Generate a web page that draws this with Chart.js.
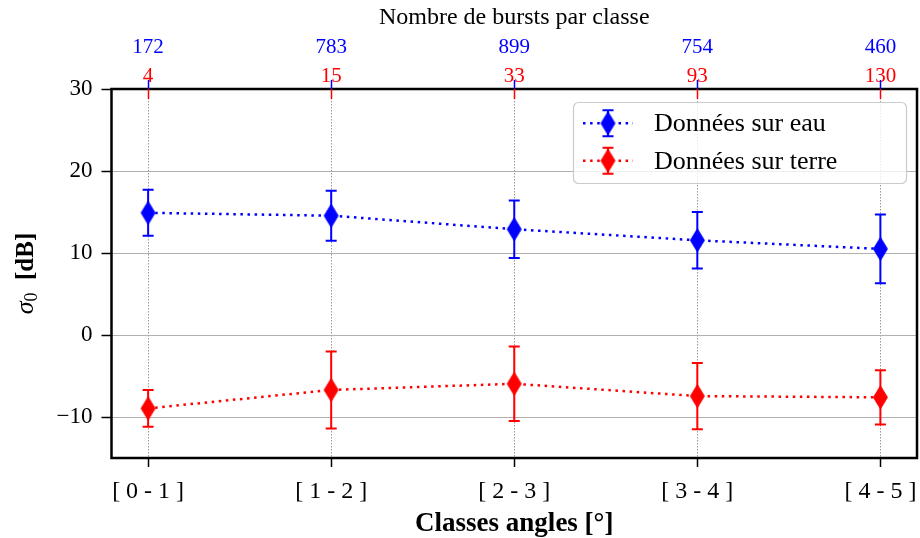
<!DOCTYPE html>
<html>
<head>
<meta charset="utf-8">
<script src="https://cdn.jsdelivr.net/npm/chart.js@4.4.1/dist/chart.umd.min.js"></script>
<style>
  html, body { margin: 0; padding: 0; background: #ffffff; }
  .chart-container { width: 920px; height: 538px; position: relative; }
</style>
</head>
<body>
<div class="chart-container"><canvas id="sigmaChart"></canvas></div>
<script>
// data
const classes = ['[ 0 - 1 ]', '[ 1 - 2 ]', '[ 2 - 3 ]', '[ 3 - 4 ]', '[ 4 - 5 ]'];
const eauMean = [14.9, 14.55, 12.9, 11.55, 10.5];
const eauErr = [2.8, 3.05, 3.5, 3.45, 4.2];
const terreMean = [-8.95, -6.7, -5.95, -7.45, -7.6];
const terreErr = [2.25, 4.7, 4.55, 4.05, 3.3];
const burstsEau = [172, 783, 899, 754, 460];
const burstsTerre = [4, 15, 33, 93, 130];
const yTicks = [-10, 0, 10, 20, 30];

const BLUE = '#0000ff';
const RED = '#ff0000';
const SERIF = "'Liberation Serif', 'Times New Roman', serif";

Chart.defaults.font.family = SERIF;
Chart.defaults.color = '#000000';

const classIdx = classes.map((c, i) => i);

function thinDiamond(color) {
  const c = document.createElement('canvas');
  c.width = 17;
  c.height = 25;
  const g = c.getContext('2d');
  g.fillStyle = color;
  g.strokeStyle = color;
  g.lineWidth = 1;
  g.beginPath();
  g.moveTo(8.5, 1);
  g.lineTo(15.5, 12.5);
  g.lineTo(8.5, 24);
  g.lineTo(1.5, 12.5);
  g.closePath();
  g.fill();
  g.stroke();
  return c;
}

function setCategoryTicks(scale) {
  scale.ticks = classIdx.map(v => ({ value: v }));
}

// fixed axis box sizes so the plot area sits where the figure has it
function fixHeight(h) {
  return scale => {
    scale.height = h;
    scale.paddingLeft = 0;
    scale.paddingRight = 0;
  };
}

const errorBars = {
  id: 'errorBars',
  beforeDatasetsDraw(chart) {
    const { ctx, scales: { x, y } } = chart;
    chart.data.datasets.forEach(ds => {
      ctx.save();
      ctx.strokeStyle = ds.borderColor;
      ctx.lineWidth = 2;
      ds.data.forEach((p, i) => {
        const px = x.getPixelForValue(p.x);
        const top = y.getPixelForValue(p.y + ds.errors[i]);
        const bot = y.getPixelForValue(p.y - ds.errors[i]);
        ctx.beginPath();
        ctx.moveTo(px, top); ctx.lineTo(px, bot);
        ctx.moveTo(px - 5.5, top); ctx.lineTo(px + 5.5, top);
        ctx.moveTo(px - 5.5, bot); ctx.lineTo(px + 5.5, bot);
        ctx.stroke();
      });
      ctx.restore();
    });
  }
};

function drawHandle(ctx, cx, cy, ds) {
  ctx.save();
  ctx.strokeStyle = ds.borderColor;
  ctx.lineWidth = 2.5;
  ctx.setLineDash([2.5, 4.6]);
  ctx.beginPath();
  ctx.moveTo(cx - 25, cy); ctx.lineTo(cx + 25, cy);
  ctx.stroke();
  ctx.setLineDash([]);
  ctx.lineWidth = 2;
  ctx.beginPath();
  ctx.moveTo(cx, cy - 13); ctx.lineTo(cx, cy + 13);
  ctx.moveTo(cx - 5.5, cy - 13); ctx.lineTo(cx + 5.5, cy - 13);
  ctx.moveTo(cx - 5.5, cy + 13); ctx.lineTo(cx + 5.5, cy + 13);
  ctx.stroke();
  const img = ds.pointStyle;
  ctx.drawImage(img, cx - img.width / 2, cy - img.height / 2);
  ctx.restore();
}

const frameAndExtras = {
  id: 'frameAndExtras',
  afterDraw(chart) {
    const { ctx, chartArea: a, scales } = chart;

    // axes frame
    ctx.save();
    ctx.strokeStyle = '#000000';
    ctx.lineWidth = 2.5;
    ctx.strokeRect(a.left, a.top, a.right - a.left, a.bottom - a.top);

    // top tick marks: blue outward, red inward
    ctx.lineWidth = 1.5;
    classIdx.forEach(i => {
      const px = Math.round(scales.xEau.getPixelForValue(i)) + 0.5;
      ctx.strokeStyle = BLUE;
      ctx.beginPath(); ctx.moveTo(px, a.top - 9); ctx.lineTo(px, a.top); ctx.stroke();
      ctx.strokeStyle = RED;
      ctx.beginPath(); ctx.moveTo(px, a.top); ctx.lineTo(px, a.top + 10); ctx.stroke();
    });

    // legend
    const bx = a.right - 344, by = a.top + 13, bw = 333, bh = 81;
    ctx.beginPath();
    ctx.roundRect(bx + 0.5, by + 0.5, bw, bh, 5);
    ctx.fillStyle = 'rgba(255,255,255,0.8)';
    ctx.fill();
    ctx.strokeStyle = '#cccccc';
    ctx.lineWidth = 1.2;
    ctx.stroke();
    chart.data.datasets.forEach((ds, k) => {
      const cy = by + 21.3 + k * 37.4;
      drawHandle(ctx, bx + 35, cy, ds);
      ctx.fillStyle = '#000000';
      ctx.font = '26px ' + SERIF;
      ctx.textAlign = 'left';
      ctx.textBaseline = 'middle';
      ctx.fillText(ds.label, bx + 81, cy + 1);
    });

    // y axis title: sigma_0 [dB]
    ctx.translate(25, (a.top + a.bottom) / 2);
    ctx.rotate(-Math.PI / 2);
    ctx.textBaseline = 'alphabetic';
    ctx.textAlign = 'left';
    const fSig = 'italic 26px ' + SERIF;
    const fSub = '18px ' + SERIF;
    const fDb = 'bold 25px ' + SERIF;
    ctx.font = fSig; const wSig = ctx.measureText('σ').width;
    ctx.font = fSub; const wSub = ctx.measureText('0').width;
    ctx.font = fDb; const wDb = ctx.measureText('  [dB]').width;
    let tx = -(wSig + wSub + wDb) / 2;
    ctx.fillStyle = '#000000';
    ctx.font = fSig; ctx.fillText('σ', tx, 8); tx += wSig;
    ctx.font = fSub; ctx.fillText('0', tx, 12); tx += wSub;
    ctx.font = fDb; ctx.fillText('  [dB]', tx, 8);
    ctx.restore();
  }
};

const ctx = document.getElementById('sigmaChart').getContext('2d');

new Chart(ctx, {
  type: 'line',
  data: {
    datasets: [
      {
        label: 'Données sur eau',
        data: classIdx.map(i => ({ x: i, y: eauMean[i] })),
        errors: eauErr,
        borderColor: BLUE,
        backgroundColor: BLUE,
        borderWidth: 2.5,
        borderDash: [2.5, 4.6],
        pointStyle: thinDiamond(BLUE),
        pointRadius: 10,
        fill: false,
        tension: 0
      },
      {
        label: 'Données sur terre',
        data: classIdx.map(i => ({ x: i, y: terreMean[i] })),
        errors: terreErr,
        borderColor: RED,
        backgroundColor: RED,
        borderWidth: 2.5,
        borderDash: [2.5, 4.6],
        pointStyle: thinDiamond(RED),
        pointRadius: 10,
        fill: false,
        tension: 0
      }
    ]
  },
  options: {
    responsive: true,
    maintainAspectRatio: false,
    animation: false,
    layout: { autoPadding: false, padding: { left: 0, right: 3, top: 0, bottom: 0 } },
    plugins: {
      legend: { display: false },
      tooltip: { enabled: false }
    },
    scales: {
      x: {
        type: 'linear',
        position: 'bottom',
        min: -0.2,
        max: 4.2,
        afterBuildTicks: setCategoryTicks,
        afterFit: fixHeight(80),
        ticks: {
          callback: v => classes[v],
          font: { size: 24 },
          color: '#000000',
          padding: 10,
          maxRotation: 0,
          autoSkip: false
        },
        grid: {
          color: '#999999',
          lineWidth: 1,
          tickColor: '#000000',
          tickLength: 9,
          tickWidth: 1.5
        },
        border: { display: false, dash: [1.5, 1.5] },
        title: {
          display: true,
          text: 'Classes angles [°]',
          font: { size: 27, weight: 'bold', lineHeight: 1.05 },
          color: '#000000',
          padding: { top: 0, bottom: 0 }
        }
      },
      xTerre: {
        type: 'linear',
        position: 'top',
        weight: 0,
        min: -0.2,
        max: 4.2,
        afterBuildTicks: setCategoryTicks,
        afterFit: fixHeight(29),
        ticks: {
          callback: v => String(burstsTerre[v]),
          font: { size: 21 },
          color: RED,
          padding: 0,
          maxRotation: 0,
          autoSkip: false
        },
        grid: { display: false, drawTicks: false },
        border: { display: false }
      },
      xEau: {
        type: 'linear',
        position: 'top',
        weight: 1,
        min: -0.2,
        max: 4.2,
        afterBuildTicks: setCategoryTicks,
        afterFit: fixHeight(60),
        ticks: {
          callback: v => String(burstsEau[v]),
          font: { size: 21 },
          color: BLUE,
          padding: 0,
          maxRotation: 0,
          autoSkip: false
        },
        grid: { display: false, drawTicks: false },
        border: { display: false },
        title: {
          display: true,
          text: 'Nombre de bursts par classe',
          font: { size: 24 },
          color: '#000000',
          padding: { top: 3, bottom: 0 }
        }
      },
      y: {
        type: 'linear',
        position: 'left',
        min: -15,
        max: 30,
        afterBuildTicks: scale => { scale.ticks = yTicks.map(v => ({ value: v })); },
        afterFit: scale => { scale.width = 111.5; },
        ticks: {
          callback: v => (v < 0 ? '\u2212' + Math.abs(v) : String(v)),
          font: { size: 23 },
          color: '#000000',
          padding: 9
        },
        grid: {
          color: '#b0b0b0',
          lineWidth: 1,
          tickColor: '#000000',
          tickLength: 10,
          tickWidth: 1.5
        },
        border: { display: false }
      }
    }
  },
  plugins: [errorBars, frameAndExtras]
});
</script>
</body>
</html>
